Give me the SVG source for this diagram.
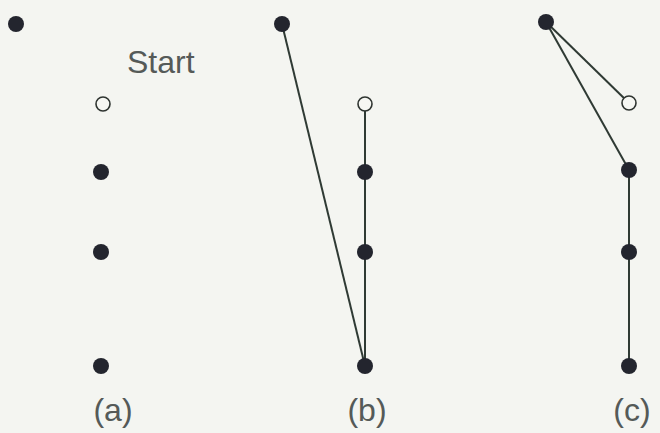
<svg xmlns="http://www.w3.org/2000/svg" width="660" height="433" viewBox="0 0 660 433">
<style>
.dot{fill:#23252e}
.open{fill:#f6f7f3;stroke:#2e3430;stroke-width:1.6}
.edge{stroke:#2f3a34;stroke-width:2;fill:none}
.t{font-family:"Liberation Sans",Arial,sans-serif;font-size:32px;fill:#555a58}
</style>
<rect width="660" height="433" fill="#f4f5f1"/>
<g id="connectors">
<line class="edge" x1="282" y1="24" x2="365" y2="366"/>
<line class="edge" x1="365" y1="104" x2="365" y2="366"/>
<line class="edge" x1="546" y1="22" x2="629" y2="103"/>
<line class="edge" x1="546" y1="22" x2="629" y2="170"/>
<line class="edge" x1="629" y1="170" x2="629" y2="366"/>
</g>
<g id="a">
<g id="a-top"><circle class="dot" cx="16" cy="24" r="8"/></g>
<g id="a-start"><circle class="open" cx="103" cy="104" r="7"/><text class="t" x="127" y="73">Start</text></g>
<g id="a-n1"><circle class="dot" cx="101" cy="172" r="8"/></g>
<g id="a-n2"><circle class="dot" cx="101" cy="252" r="8"/></g>
<g id="a-n3"><circle class="dot" cx="101" cy="366" r="8"/></g>
<text class="t" x="113" y="421" text-anchor="middle">(a)</text>
</g>
<g id="b">
<g id="b-top"><circle class="dot" cx="282" cy="24" r="8"/></g>
<g id="b-start"><circle class="open" cx="365" cy="104" r="7"/></g>
<g id="b-n1"><circle class="dot" cx="365" cy="172" r="8"/></g>
<g id="b-n2"><circle class="dot" cx="365" cy="252" r="8"/></g>
<g id="b-n3"><circle class="dot" cx="365" cy="366" r="8"/></g>
<text class="t" x="367" y="421" text-anchor="middle">(b)</text>
</g>
<g id="c">
<g id="c-top"><circle class="dot" cx="546" cy="22" r="8"/></g>
<g id="c-start"><circle class="open" cx="629" cy="103" r="7"/></g>
<g id="c-n1"><circle class="dot" cx="629" cy="170" r="8"/></g>
<g id="c-n2"><circle class="dot" cx="629" cy="252" r="8"/></g>
<g id="c-n3"><circle class="dot" cx="629" cy="366" r="8"/></g>
<text class="t" x="632" y="421" text-anchor="middle">(c)</text>
</g>
</svg>
